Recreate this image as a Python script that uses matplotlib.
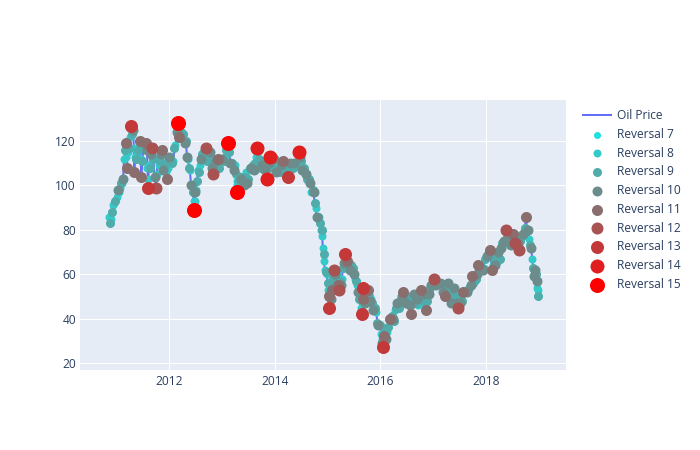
import matplotlib

matplotlib.use("Agg")
import matplotlib.pyplot as plt
import matplotlib.dates as mdates
import numpy as np
import pandas as pd

# weekly-ish Brent price, with the highest reversal level each point belongs to
dates = [
    "2010-11-12", "2010-11-19", "2010-11-26", "2010-12-03", "2010-12-10", "2010-12-17", "2010-12-24",
    # 2011
    "2011-01-05", "2011-01-12", "2011-01-19", "2011-01-28", "2011-02-04", "2011-02-11", "2011-02-18", "2011-02-24",
    "2011-03-02", "2011-03-07", "2011-03-16", "2011-03-23", "2011-03-30", "2011-04-06", "2011-04-11", "2011-04-20",
    "2011-04-29", "2011-05-06", "2011-05-13", "2011-05-20", "2011-05-27", "2011-06-03", "2011-06-13", "2011-06-24",
    "2011-07-01", "2011-07-08", "2011-07-15", "2011-07-25", "2011-08-02", "2011-08-09", "2011-08-16", "2011-08-23",
    "2011-09-01", "2011-09-08", "2011-09-15", "2011-09-23", "2011-10-04", "2011-10-14", "2011-10-21", "2011-10-28",
    "2011-11-07", "2011-11-14", "2011-11-23", "2011-11-30", "2011-12-07", "2011-12-16", "2011-12-23",
    # 2012
    "2012-01-04", "2012-01-11", "2012-01-18", "2012-01-25", "2012-02-01", "2012-02-08", "2012-02-15", "2012-02-24",
    "2012-03-01", "2012-03-12", "2012-03-21", "2012-03-30", "2012-04-06", "2012-04-13", "2012-04-20", "2012-04-27",
    "2012-05-04", "2012-05-11", "2012-05-18", "2012-05-25", "2012-06-01", "2012-06-08", "2012-06-15", "2012-06-22",
    "2012-06-29", "2012-07-06", "2012-07-13", "2012-07-20", "2012-07-27", "2012-08-03", "2012-08-10", "2012-08-17",
    "2012-08-24", "2012-09-05", "2012-09-14", "2012-09-21", "2012-09-28", "2012-10-05", "2012-10-12", "2012-10-19",
    "2012-10-26", "2012-11-02", "2012-11-09", "2012-11-16", "2012-11-23", "2012-12-05", "2012-12-14", "2012-12-21",
    # 2013
    "2013-01-02", "2013-01-11", "2013-01-18", "2013-01-25", "2013-02-01", "2013-02-11", "2013-02-20", "2013-03-01",
    "2013-03-08", "2013-03-15", "2013-03-22", "2013-03-29", "2013-04-05", "2013-04-12", "2013-04-17", "2013-04-26",
    "2013-05-03", "2013-05-10", "2013-05-17", "2013-05-24", "2013-05-31", "2013-06-07", "2013-06-14", "2013-06-21",
    "2013-06-28", "2013-07-05", "2013-07-12", "2013-07-19", "2013-07-26", "2013-08-02", "2013-08-09", "2013-08-16",
    "2013-08-28", "2013-09-06", "2013-09-13", "2013-09-20", "2013-09-27", "2013-10-04", "2013-10-11", "2013-10-18",
    "2013-10-25", "2013-11-07", "2013-11-15", "2013-11-22", "2013-12-02", "2013-12-09", "2013-12-16", "2013-12-27",
    # 2014
    "2014-01-06", "2014-01-13", "2014-01-24", "2014-02-03", "2014-02-14", "2014-02-28", "2014-03-07", "2014-03-14",
    "2014-03-21", "2014-04-01", "2014-04-11", "2014-04-18", "2014-04-28", "2014-05-09", "2014-05-16", "2014-05-28",
    "2014-06-06", "2014-06-19", "2014-06-27", "2014-07-04", "2014-07-11", "2014-07-18", "2014-07-25", "2014-08-01",
    "2014-08-08", "2014-08-15", "2014-08-22", "2014-08-29", "2014-09-05", "2014-09-12", "2014-09-19", "2014-09-26",
    "2014-10-03", "2014-10-10", "2014-10-17", "2014-10-24", "2014-10-31", "2014-11-07", "2014-11-14", "2014-11-21",
    "2014-11-28", "2014-12-05", "2014-12-12", "2014-12-19", "2014-12-26",
    # 2015
    "2015-01-02", "2015-01-09", "2015-01-13", "2015-01-23", "2015-01-30", "2015-02-06", "2015-02-13", "2015-02-20",
    "2015-02-27", "2015-03-06", "2015-03-13", "2015-03-18", "2015-03-27", "2015-04-03", "2015-04-10", "2015-04-17",
    "2015-04-24", "2015-05-04", "2015-05-15", "2015-05-22", "2015-05-29", "2015-06-05", "2015-06-12", "2015-06-19",
    "2015-06-26", "2015-07-03", "2015-07-10", "2015-07-17", "2015-07-24", "2015-07-31", "2015-08-07", "2015-08-14",
    "2015-08-24", "2015-08-31", "2015-09-04", "2015-09-11", "2015-09-18", "2015-09-25", "2015-10-02", "2015-10-09",
    "2015-10-16", "2015-10-23", "2015-10-30", "2015-11-06", "2015-11-13", "2015-11-20", "2015-11-27", "2015-12-04",
    "2015-12-11", "2015-12-18", "2015-12-25",
    # 2016
    "2016-01-01", "2016-01-08", "2016-01-15", "2016-01-20", "2016-01-27", "2016-02-03", "2016-02-11", "2016-02-19",
    "2016-02-26", "2016-03-08", "2016-03-15", "2016-03-22", "2016-03-31", "2016-04-07", "2016-04-14", "2016-04-21",
    "2016-04-28", "2016-05-06", "2016-05-13", "2016-05-20", "2016-05-27", "2016-06-08", "2016-06-17", "2016-06-27",
    "2016-07-01", "2016-07-08", "2016-07-15", "2016-07-22", "2016-08-02", "2016-08-12", "2016-08-19", "2016-08-26",
    "2016-09-02", "2016-09-09", "2016-09-16", "2016-09-30", "2016-10-10", "2016-10-17", "2016-10-24", "2016-10-31",
    "2016-11-07", "2016-11-14", "2016-11-21", "2016-11-30", "2016-12-07", "2016-12-14", "2016-12-21",
    # 2017
    "2017-01-06", "2017-01-13", "2017-01-20", "2017-01-27", "2017-02-03", "2017-02-10", "2017-02-17", "2017-02-24",
    "2017-03-03", "2017-03-10", "2017-03-17", "2017-03-22", "2017-03-31", "2017-04-11", "2017-04-21", "2017-04-28",
    "2017-05-05", "2017-05-12", "2017-05-25", "2017-06-02", "2017-06-09", "2017-06-16", "2017-06-21", "2017-06-30",
    "2017-07-07", "2017-07-14", "2017-07-21", "2017-07-28", "2017-08-04", "2017-08-11", "2017-08-18", "2017-08-25",
    "2017-09-01", "2017-09-08", "2017-09-15", "2017-09-25", "2017-10-02", "2017-10-13", "2017-10-20", "2017-10-27",
    "2017-11-06", "2017-11-14", "2017-11-21", "2017-11-30", "2017-12-07", "2017-12-14", "2017-12-26",
    # 2018
    "2018-01-04", "2018-01-11", "2018-01-19", "2018-01-26", "2018-02-02", "2018-02-09", "2018-02-16", "2018-02-23",
    "2018-03-02", "2018-03-09", "2018-03-16", "2018-03-23", "2018-03-30", "2018-04-06", "2018-04-13", "2018-04-20",
    "2018-04-27", "2018-05-04", "2018-05-17", "2018-05-25", "2018-06-01", "2018-06-08", "2018-06-15", "2018-06-21",
    "2018-07-03", "2018-07-10", "2018-07-17", "2018-07-24", "2018-07-31", "2018-08-07", "2018-08-15", "2018-08-23",
    "2018-08-30", "2018-09-06", "2018-09-13", "2018-09-20", "2018-09-27", "2018-10-03", "2018-10-11", "2018-10-18",
    "2018-10-25", "2018-11-01", "2018-11-08", "2018-11-15", "2018-11-22", "2018-11-29", "2018-12-04", "2018-12-11",
    "2018-12-18", "2018-12-24", "2018-12-28",
]

price = [
    86, 83, 85, 88, 91, 92, 93,
    # 2011
    95, 98, 97, 99, 101, 101, 103, 112,
    116, 119, 108, 115, 117, 122, 127, 123,
    125, 106, 113, 112, 115, 116, 120, 104,
    111, 117, 117, 119, 116, 99, 109, 108,
    114, 117, 112, 104, 99, 112, 109, 111,
    114, 116, 107, 110, 109, 103, 108,
    # 2012
    113, 113, 111, 110, 111, 117, 118, 124,
    128, 122, 124, 122, 123, 121, 119, 120,
    113, 112, 108, 107, 100, 100, 97, 89,
    97, 98, 102, 107, 106, 109, 112, 114,
    115, 114, 117, 111, 112, 111, 115, 113,
    108, 105, 109, 108, 111, 112, 108, 110,
    # 2013
    112, 111, 111, 113, 116, 119, 115, 110,
    110, 110, 107, 109, 105, 102, 97, 102,
    104, 103, 104, 102, 100, 104, 106, 101,
    103, 107, 108, 108, 107, 109, 107, 110,
    117, 116, 112, 109, 108, 109, 111, 109,
    107, 103, 108, 110, 113, 109, 109, 112,
    # 2014
    107, 106, 108, 106, 109, 111, 109, 107,
    106, 104, 107, 110, 108, 108, 110, 109,
    109, 115, 113, 111, 107, 107, 108, 105,
    105, 103, 102, 103, 101, 97, 98, 97,
    92, 90, 86, 86, 86, 83, 80, 80,
    72, 69, 62, 61, 60,
    # 2015
    56, 50, 45, 49, 53, 58, 62, 60,
    62, 60, 55, 53, 57, 55, 58, 63,
    65, 69, 66, 65, 65, 62, 64, 63,
    63, 60, 58, 57, 55, 52, 49, 49,
    42, 54, 49, 48, 47, 48, 48, 53,
    50, 48, 49, 47, 44, 44, 45, 43,
    38, 37, 37,
    # 2016
    37, 33, 29, 27, 32, 35, 31, 34,
    36, 40, 39, 41, 40, 39, 44, 45,
    47, 45, 48, 49, 50, 52, 49, 47,
    50, 47, 48, 46, 42, 47, 51, 50,
    47, 49, 46, 49, 53, 52, 51, 48,
    46, 44, 48, 51, 54, 55, 55,
    # 2017
    58, 55, 55, 56, 56, 56, 56, 56,
    56, 52, 51, 50, 53, 56, 52, 52,
    47, 51, 54, 50, 48, 47, 45, 48,
    47, 49, 48, 52, 52, 52, 52, 52,
    53, 54, 55, 59, 56, 57, 58, 60,
    64, 62, 63, 63, 62, 63, 67,
    # 2018
    68, 69, 69, 71, 68, 62, 64, 67,
    64, 65, 66, 70, 70, 67, 72, 74,
    75, 75, 80, 76, 77, 76, 73, 73,
    78, 78, 74, 73, 74, 74, 71, 75,
    77, 77, 78, 79, 81, 86, 80, 80,
    76, 73, 72, 67, 63, 59, 62, 60,
    57, 50, 53,
]

top_reversal = [
    8, 9, 8, 9, 8, 8, 9,
    # 2011
    8, 10, 8, 8, 9, 8, 10, 8,
    9, 11, 11, 8, 9, 8, 13, 9,
    10, 11, 8, 9, 8, 9, 11, 11,
    9, 9, 8, 11, 10, 13, 8, 9,
    10, 12, 9, 10, 12, 9, 8, 9,
    10, 11, 10, 8, 9, 11, 8,
    # 2012
    10, 9, 8, 9, 8, 9, 8, 10,
    15, 11, 9, 8, 9, 8, 10, 9,
    10, 8, 9, 8, 10, 8, 9, 15,
    10, 8, 9, 8, 9, 8, 10, 9,
    8, 9, 12, 9, 8, 9, 10, 9,
    10, 12, 8, 9, 10, 11, 9, 8,
    # 2013
    10, 8, 9, 8, 9, 15, 9, 10,
    8, 9, 10, 8, 9, 8, 15, 9,
    8, 10, 9, 8, 10, 9, 8, 10,
    9, 8, 9, 10, 8, 9, 10, 9,
    14, 10, 9, 8, 9, 10, 9, 8,
    10, 14, 9, 10, 14, 9, 8, 10,
    # 2014
    9, 10, 8, 9, 10, 11, 9, 8,
    9, 13, 9, 10, 8, 9, 10, 8,
    9, 14, 10, 9, 10, 8, 9, 8,
    10, 9, 8, 9, 10, 8, 9, 10,
    9, 8, 10, 9, 8, 9, 8, 9,
    8, 9, 8, 9, 8,
    # 2015
    9, 11, 13, 10, 11, 9, 12, 10,
    9, 8, 11, 12, 9, 10, 8, 9,
    10, 13, 11, 9, 8, 10, 9, 8,
    9, 10, 8, 9, 8, 10, 9, 8,
    13, 13, 11, 9, 10, 8, 9, 11,
    9, 10, 8, 9, 10, 8, 9, 8,
    9, 10, 8,
    # 2016
    9, 8, 10, 13, 11, 9, 10, 8,
    9, 11, 8, 9, 10, 9, 8, 9,
    10, 9, 8, 9, 10, 11, 9, 10,
    9, 8, 9, 10, 11, 9, 10, 8,
    9, 10, 8, 9, 11, 9, 10, 9,
    8, 11, 9, 10, 9, 10, 8,
    # 2017
    12, 9, 10, 8, 9, 8, 10, 9,
    8, 10, 9, 11, 9, 10, 9, 8,
    10, 9, 10, 9, 8, 10, 12, 9,
    10, 8, 9, 11, 9, 8, 9, 10,
    8, 9, 10, 11, 9, 8, 9, 10,
    11, 9, 8, 9, 10, 8, 9,
    # 2018
    10, 9, 8, 11, 9, 11, 8, 9,
    10, 8, 9, 10, 8, 9, 10, 9,
    8, 10, 12, 9, 10, 8, 9, 10,
    11, 9, 12, 8, 9, 10, 12, 9,
    8, 9, 10, 8, 9, 11, 9, 10,
    8, 9, 10, 8, 9, 10, 10, 9,
    10, 9, 8,
]

# extra days read in the steep stretches, where the weekly points leave gaps
extra_dates = [
    "2011-03-11", "2011-05-03", "2011-06-19", "2011-08-05", "2011-08-12", "2011-10-09", "2011-12-12",
    "2012-02-28", "2012-06-19", "2012-06-26", "2013-04-14", "2013-04-21", "2013-08-23", "2014-11-26",
    "2014-12-09", "2015-01-06", "2015-08-20", "2015-08-27", "2015-08-29", "2016-01-12", "2016-01-23",
    "2018-12-21",
]
extra_price = [
    113, 117, 112, 108, 103, 105, 106,
    126, 93, 93, 100, 99, 113, 77,
    66, 53, 45, 47, 50, 31, 29,
    54,
]
extra_reversal = [
    8, 8, 8, 8, 8, 8, 8,
    8, 8, 8, 8, 8, 8, 8,
    8, 8, 8, 8, 8, 8, 8,
    8,
]

reversal_levels = [7, 8, 9, 10, 11, 12, 13, 14, 15]
reversal_colors = [
    "#1ee0e0", "#34caca", "#50acab", "#6b8c8b", "#8a6e6e",
    "#a85252", "#c33939", "#e01e1e", "#ff0000",
]

assert len(dates) == len(price) == len(top_reversal)
assert len(extra_dates) == len(extra_price) == len(extra_reversal)

df = pd.DataFrame(
    {
        "date": pd.to_datetime(dates + extra_dates),
        "price": price + extra_price,
        "level": top_reversal + extra_reversal,
    }
).sort_values("date")
t = df["date"].to_numpy()
p = df["price"].to_numpy(dtype=float)
lvl = df["level"].to_numpy()

plt.rcParams["font.family"] = ["Open Sans", "DejaVu Sans"]
TEXT = "#2a3f5f"
PX = 0.72  # points per pixel at dpi 100

fig = plt.figure(figsize=(7, 4.5), dpi=100)
ax = fig.add_axes([80 / 700, 80 / 450, 486 / 700, 270 / 450])
ax.set_facecolor("#e5ecf6")

ax.plot(t, p, color="#636efa", linewidth=2 * PX, label="Oil Price", zorder=2)
for level, color in zip(reversal_levels, reversal_colors):
    mask = lvl >= level
    ax.scatter(
        t[mask],
        p[mask],
        s=(level * PX) ** 2,
        color=color,
        linewidths=0,
        label=f"Reversal {level}",
        zorder=3,
    )

ax.set_xlim(pd.Timestamp("2010-04-26"), pd.Timestamp("2019-07-07"))
ax.set_ylim(16.85, 138.5)
ax.xaxis.set_major_locator(mdates.YearLocator(2))
ax.xaxis.set_major_formatter(mdates.DateFormatter("%Y"))
ax.set_yticks([20, 40, 60, 80, 100, 120])

ax.grid(True, color="white", linewidth=1 * PX)
ax.set_axisbelow(True)
for spine in ax.spines.values():
    spine.set_visible(False)
ax.tick_params(axis="both", length=0, labelsize=12 * PX, labelcolor=TEXT)
ax.tick_params(axis="x", pad=5 * PX)
ax.tick_params(axis="y", pad=4 * PX)

fig.legend(
    loc="upper left",
    bbox_to_anchor=(583 / 700, 1 - 109 / 450),
    frameon=False,
    fontsize=12 * PX,
    labelcolor=TEXT,
    handlelength=2.33,
    handletextpad=0.5,
    labelspacing=0.48,
    borderpad=0,
    borderaxespad=0,
    scatterpoints=1,
)

fig.savefig("out.png", dpi=100)
